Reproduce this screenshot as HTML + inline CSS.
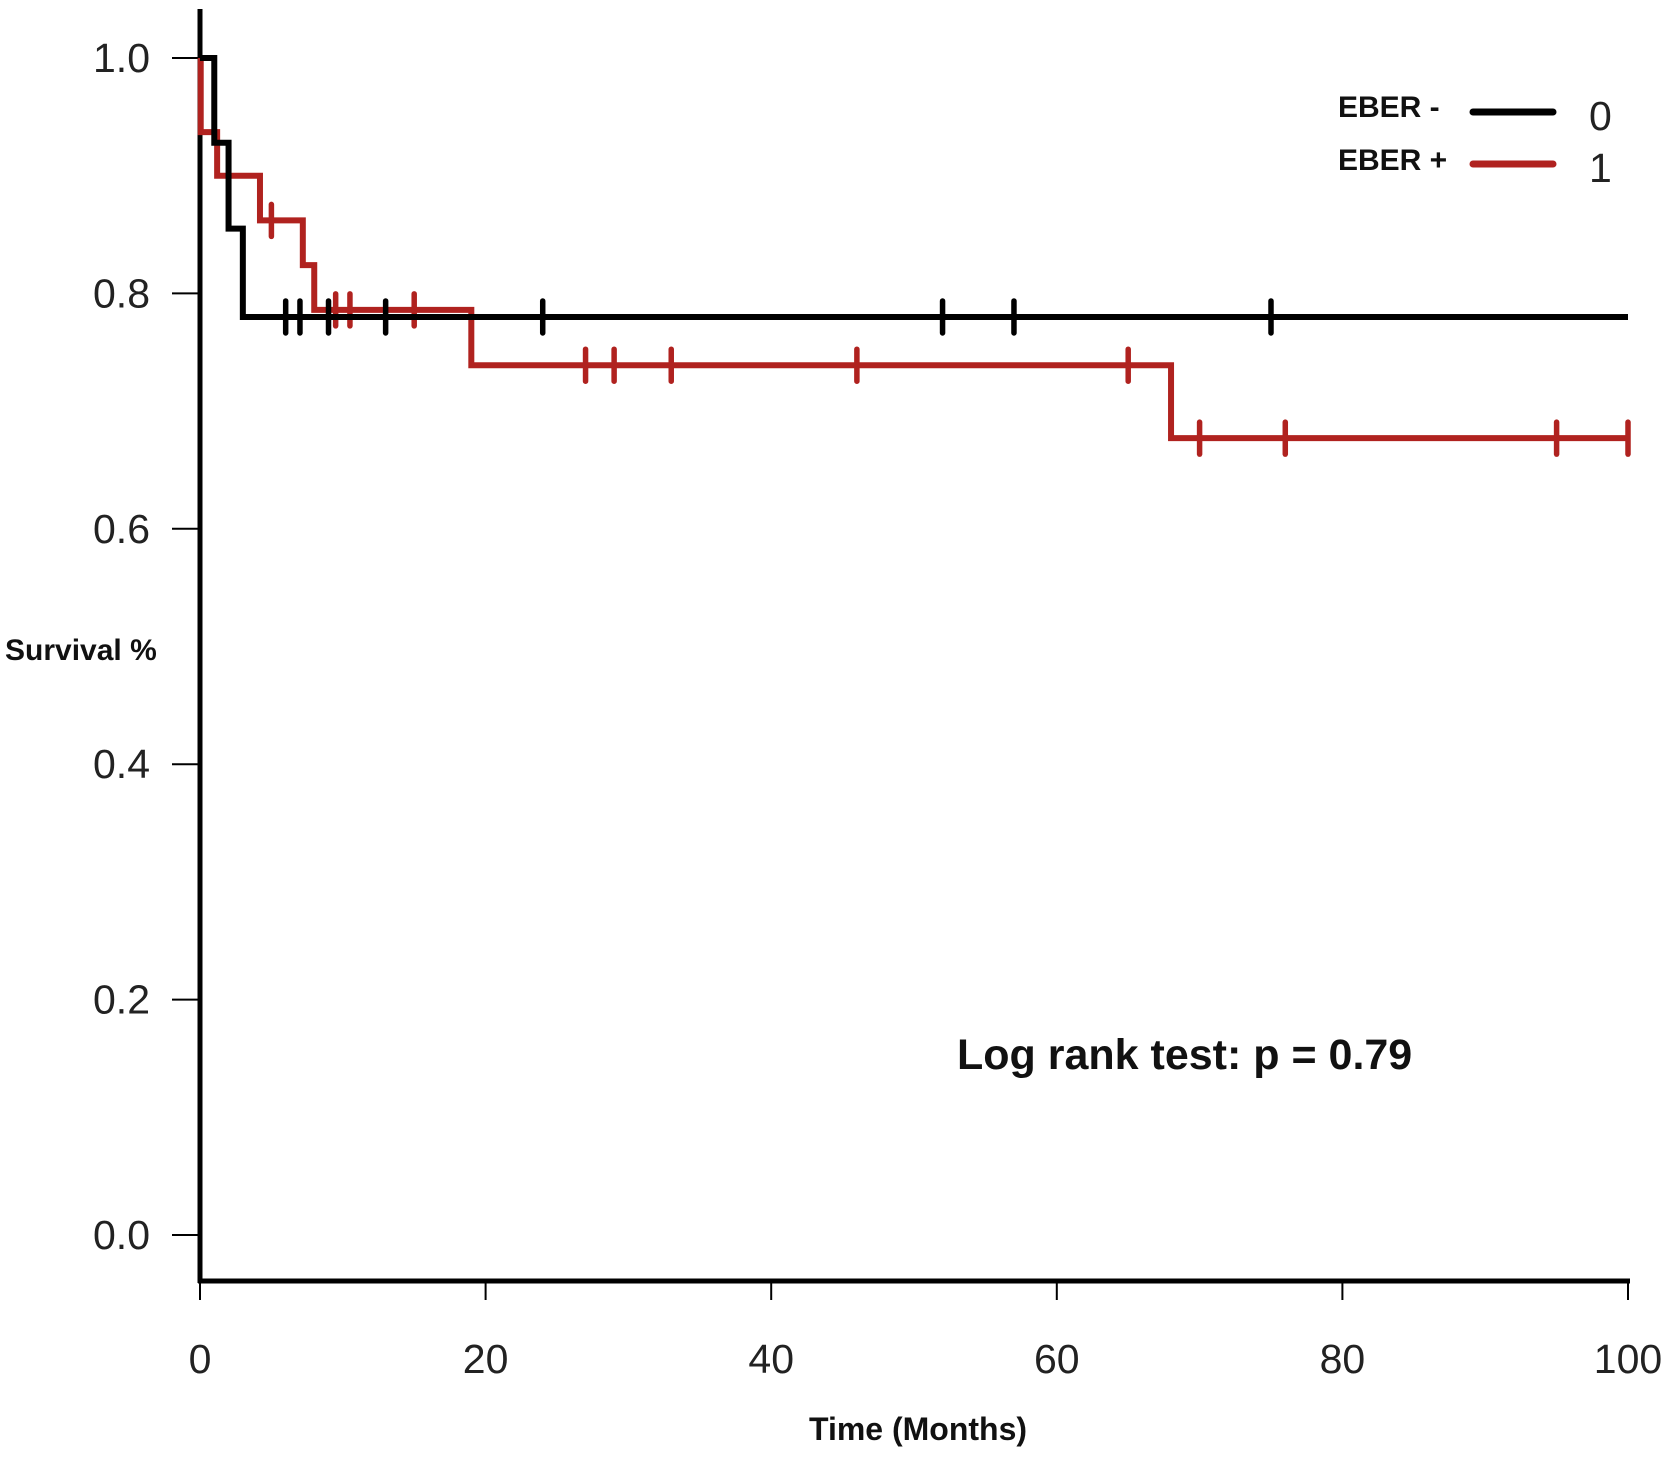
<!DOCTYPE html>
<html><head><meta charset="utf-8"><style>
body{margin:0;background:#fff}
svg{display:block}
text{font-family:"Liberation Sans",sans-serif}
</style></head><body>
<svg id="chart" width="1667" height="1457" viewBox="0 0 1667 1457"></svg>
<script>
const xTicks=[0,20,40,60,80,100];
const yTicks=[0.0,0.2,0.4,0.6,0.8,1.0];
const yTickLabels=["0.0","0.2","0.4","0.6","0.8","1.0"];
const blackTimes=[0,1,2,3,100];
const blackSurv=[1.0,0.928,0.855,0.78,0.78];
const blackCensor=[6,7,9,13,24,52,57,75];
const redTimes=[0,0.05,1.2,4.2,7.2,8,19,68,100];
const redSurv=[1.0,0.937,0.9,0.862,0.824,0.786,0.739,0.677,0.677];
const redCensor=[5,9.5,10.5,15,27,29,33,46,65,70,76,95,100];

const X=t=>200+t*14.28;
const Y=v=>1235-v*1177;
const NS="http://www.w3.org/2000/svg";
const svg=document.getElementById('chart');
function mk(tag,attrs){const e=document.createElementNS(NS,tag);for(const k in attrs)e.setAttribute(k,attrs[k]);svg.appendChild(e);return e;}

let e=mk('line',{x1:200,y1:9,x2:200,y2:1283,stroke:'#000','stroke-width':5});


e=mk('line',{x1:198,y1:1281,x2:1630,y2:1281,stroke:'#000','stroke-width':5});



yTicks.forEach((v,i)=>{
  let t=mk('line',{x1:172,y1:Y(v),x2:200,y2:Y(v),stroke:'#000','stroke-width':2});
  
  
  let l=mk('text',{x:150,y:Y(v)+14,'text-anchor':'end','font-size':41,fill:'#222'});
  l.textContent=yTickLabels[i];
  
  
});
xTicks.forEach(v=>{
  let t=mk('line',{x1:X(v),y1:1281,x2:X(v),y2:1300,stroke:'#000','stroke-width':2});
  
  
  let l=mk('text',{x:X(v),y:1373,'text-anchor':'middle','font-size':41,fill:'#222'});
  l.textContent=v;
  
  
});

function stepPath(ts,ss){let d=`M${X(ts[0])},${Y(ss[0])}`;for(let i=1;i<ts.length;i++){d+=` H${X(ts[i])} V${Y(ss[i])}`;}return d;}
function survAt(ts,ss,t){let s=ss[0];for(let i=0;i<ts.length;i++){if(ts[i]<=t)s=ss[i];}return s;}

function series(ts,ss,cs,color,name){
  let p=mk('path',{d:stepPath(ts,ss),fill:'none',stroke:color,'stroke-width':6,'stroke-linejoin':'miter'});
  
  
  cs.forEach(c=>{
    let y=Y(survAt(ts,ss,c));
    let m=mk('line',{x1:X(c),y1:y-16,x2:X(c),y2:y+16,stroke:color,'stroke-width':5.5,'stroke-linecap':'round'});
    
    
  });
}
series(redTimes,redSurv,redCensor,'#b0221f','eber-positive');
series(blackTimes,blackSurv,blackCensor,'#000','eber-negative');

function txt(x,y,s,size,name,extra){let t=mk('text',Object.assign({x:x,y:y,'font-size':size,fill:'#111'},extra||{}));t.textContent=s;return t;}
txt(5,660,'Survival %',30,'y-axis-title',{'font-weight':'bold'});
txt(918,1440,'Time (Months)',32,'x-axis-title',{'text-anchor':'middle','font-weight':'bold'});
txt(957,1069,'Log rank test: p = 0.79',43,'log-rank-annotation',{'font-weight':'bold'});
txt(1338,117,'EBER -',30,'legend-label-eber-negative',{'font-weight':'bold'});
txt(1338,170,'EBER +',30,'legend-label-eber-positive',{'font-weight':'bold'});
e=mk('line',{x1:1473,y1:112,x2:1553,y2:112,stroke:'#000','stroke-width':7,'stroke-linecap':'round'});


e=mk('line',{x1:1473,y1:164,x2:1553,y2:164,stroke:'#b0221f','stroke-width':7,'stroke-linecap':'round'});


txt(1589,130,'0',41,'legend-key-0',{fill:'#222'});
txt(1589,182,'1',41,'legend-key-1',{fill:'#222'});
</script>
</body></html>
